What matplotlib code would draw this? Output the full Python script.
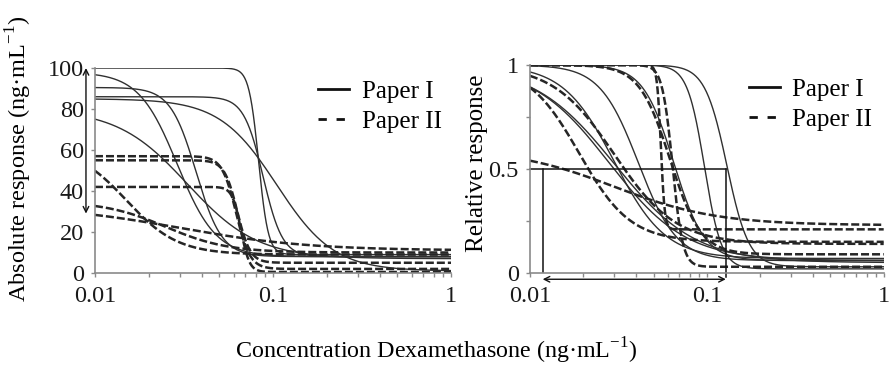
import numpy as np
import matplotlib
matplotlib.use("Agg")
from matplotlib import pyplot as plt
from matplotlib.ticker import FixedLocator, FixedFormatter, NullFormatter, LogLocator

plt.rcParams['font.family'] = ['Liberation Serif', 'DejaVu Serif']
plt.rcParams['mathtext.fontset'] = 'custom'
plt.rcParams['mathtext.rm'] = 'Liberation Serif'

# fitted dose-response curves (4 parameter logistic)
# left panel : absolute response
abs_top_I = [100, 98, 90.5, 86, 85, 80]
abs_bot_I = [9, 8, 8, 8, 1, 7]
abs_ec50_I = [0.083, 0.029, 0.037, 0.088, 0.105, 0.033]
abs_hill_I = [16, 4, 6, 8, 2.7, 2.2]

abs_top_II = [57, 55, 42, 62, 35, 33]
abs_bot_II = [2, 5, 0.5, 9, 10, 11]
abs_ec50_II = [0.062, 0.063, 0.066, 0.015, 0.025, 0.03]
abs_hill_II = [11, 12, 18, 3, 2.5, 1.2]

# right panel : relative response
rel_top_I = [1, 1, 1, 1, 1, 1, 1]
rel_bot_I = [0.03, 0.02, 0.06, 0.06, 0.07, 0.06, 0.05]
rel_ec50_I = [0.13, 0.097, 0.065, 0.041, 0.030, 0.028, 0.030]
rel_hill_I = [7, 9, 5, 4, 3, 2, 1.9]

rel_top_II = [0.6, 1.0, 1.0, 1.0, 1.0, 1.0]
rel_bot_II = [0.23, 0.15, 0.14, 0.09, 0.21, 0.03]
rel_ec50_II = [0.03, 0.019, 0.03, 0.062, 0.055, 0.064]
rel_hill_II = [1.5, 3, 2.5, 5, 40, 15]

conc = np.logspace(-2, 0, 500)


def logistic(x, top, bot, ec50, hill):
    return bot + (top - bot) / (1 + (x / ec50) ** hill)


def draw(ax, tops, bots, ec50s, hills, style):
    for t, b, c, h in zip(tops, bots, ec50s, hills):
        if style == 'solid':
            ax.plot(conc, logistic(conc, t, b, c, h), color='#303030', lw=1.0)
        else:
            ax.plot(conc, logistic(conc, t, b, c, h), color='#262626', lw=1.8,
                    dashes=(3.2, 1.2))


def style_axis(ax):
    ax.set_xscale('log')
    ax.set_xlim(0.01, 1)
    for s in ['top', 'right']:
        ax.spines[s].set_visible(False)
    for s in ['left', 'bottom']:
        ax.spines[s].set_color('#8a8a8a')
        ax.spines[s].set_linewidth(1.2)
    ax.xaxis.set_major_locator(FixedLocator([0.01, 0.1, 1]))
    ax.xaxis.set_major_formatter(FixedFormatter(['0.01', '0.1', '1']))
    ax.xaxis.set_minor_locator(LogLocator(base=10, subs=np.arange(2, 10)))
    ax.xaxis.set_minor_formatter(NullFormatter())
    ax.tick_params(which='both', colors='#8a8a8a', labelcolor='#1a1a1a',
                   labelsize=17.5, length=3, width=1)
    ax.tick_params(axis='x', pad=6)
    ax.tick_params(axis='y', pad=5)


fig = plt.figure(figsize=(8.91, 3.65), dpi=100)
ax1 = fig.add_axes([0.1066, 0.252, 0.3996, 0.5616])
ax2 = fig.add_axes([0.5948, 0.252, 0.397, 0.5698])

# left panel
draw(ax1, abs_top_I, abs_bot_I, abs_ec50_I, abs_hill_I, 'solid')
draw(ax1, abs_top_II, abs_bot_II, abs_ec50_II, abs_hill_II, 'dashed')
style_axis(ax1)
ax1.set_ylim(0, 100)
ax1.set_yticks([0, 20, 40, 60, 80, 100])
ax1.set_ylabel('Absolute response (ng·mL$^{\\mathregular{-1}}$)', fontsize=17.5)
ax1.yaxis.set_label_coords(-0.17, 0.56)
ax1.annotate('', xy=(0.0089, 100), xytext=(0.0089, 29), annotation_clip=False,
             arrowprops=dict(arrowstyle='<->', color='#111111', lw=1.0,
                             shrinkA=0, shrinkB=0))

# right panel
draw(ax2, rel_top_I, rel_bot_I, rel_ec50_I, rel_hill_I, 'solid')
draw(ax2, rel_top_II, rel_bot_II, rel_ec50_II, rel_hill_II, 'dashed')
style_axis(ax2)
ax2.set_ylim(0, 1)
ax2.set_yticks([0, 0.5, 1])
ax2.set_yticklabels(['0', '0.5', '1'])
ax2.set_yticks([0.25, 0.75], minor=True)
ax2.set_ylabel('Relative response', fontsize=18)
ax2.yaxis.set_label_coords(-0.118, 0.53)
ax2.plot([0.01, 0.128], [0.5, 0.5], color='#111111', lw=1.1, clip_on=False)
ax2.plot([0.0118, 0.0118], [0, 0.5], color='#111111', lw=1.1)
ax2.plot([0.128, 0.128], [-0.02, 0.5], color='#111111', lw=1.1, clip_on=False)
ax2.annotate('', xy=(0.0118, -0.03), xytext=(0.128, -0.03), annotation_clip=False,
             arrowprops=dict(arrowstyle='<->', color='#111111', lw=1.0,
                             shrinkA=0, shrinkB=0))

# legends
for ax, x0 in [(ax1, 0.626), (ax2, 0.618)]:
    h1, = ax.plot([], [], color='#111111', lw=2.0)
    h2, = ax.plot([], [], color='#111111', lw=2.0, dashes=(3, 3.5))
    ax.legend([h1, h2], ['Paper I', 'Paper II'], loc='center left',
              bbox_to_anchor=(x0, 0.81), frameon=False, fontsize=18,
              handlelength=1.25, handletextpad=0.5, labelspacing=0.3,
              borderpad=0, borderaxespad=0)

fig.text(0.49, 0.04, 'Concentration Dexamethasone (ng·mL$^{\\mathregular{-1}}$)',
         ha='center', va='center', fontsize=17.3)

fig.savefig('out.png', dpi=100)
